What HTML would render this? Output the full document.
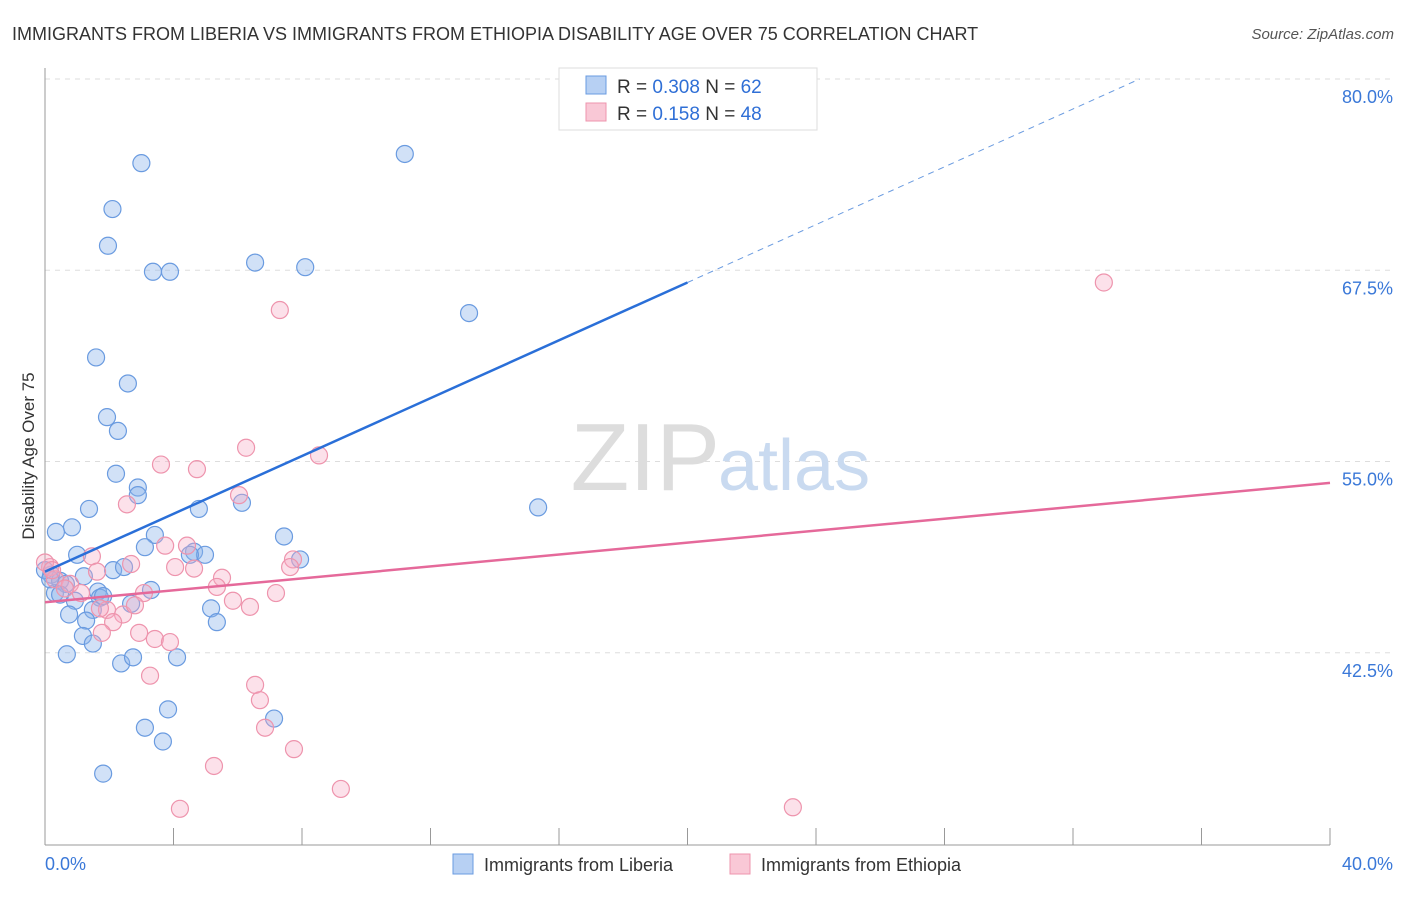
<!DOCTYPE html>
<html><head><meta charset="utf-8"><style>
body{margin:0;background:#fff;font-family:"Liberation Sans",sans-serif;}
svg text{font-family:"Liberation Sans",sans-serif;}
</style></head><body>
<svg id="chart" width="1406" height="892">
<text x="12" y="40" font-size="18" fill="#333">IMMIGRANTS FROM LIBERIA VS IMMIGRANTS FROM ETHIOPIA DISABILITY AGE OVER 75 CORRELATION CHART</text>
<text x="1394" y="39" font-size="15" fill="#555" text-anchor="end" font-style="italic">Source: ZipAtlas.com</text>
<g id="grid"></g>
<text x="720" y="490" font-size="96" fill="#ddd" text-anchor="end" font-family="Liberation Serif">ZIP</text>
<text x="718" y="490" font-size="72" fill="#c9daf0">atlas</text>
<line x1="45" y1="68" x2="45" y2="845" stroke="#999"/>
<line x1="45" y1="845" x2="1330" y2="845" stroke="#999"/>
<text transform="translate(34,456) rotate(-90)" font-size="17" fill="#333" text-anchor="middle">Disability Age Over 75</text>
<g id="pts"></g>
<g id="lines"></g>
<g>
<rect x="559" y="68" width="258" height="62" fill="#fff" stroke="#ddd"/>
<rect x="586" y="76" width="20" height="18" fill="#b7d0f3" stroke="#6a9be0"/>
<rect x="586" y="103" width="20" height="18" fill="#f9c8d6" stroke="#ee94ad"/>
<text x="617" y="93" font-size="19" fill="#333">R = <tspan fill="#2f6fd6">0.308</tspan>   N = <tspan fill="#2f6fd6">62</tspan></text>
<text x="617" y="120" font-size="19" fill="#333">R =  <tspan fill="#2f6fd6">0.158</tspan>   N = <tspan fill="#2f6fd6">48</tspan></text>
</g>
<g>
<rect x="453" y="854" width="20" height="20" fill="#b7d0f3" stroke="#6a9be0"/>
<text x="484" y="871" font-size="18" fill="#333">Immigrants from Liberia</text>
<rect x="730" y="854" width="20" height="20" fill="#f9c8d6" stroke="#ee94ad"/>
<text x="761" y="871" font-size="18" fill="#333">Immigrants from Ethiopia</text>
</g>
</svg>
<script>
const yTicks=[80,67.5,55,42.5];
const xTickLabels=["0.0%","40.0%"];
const liberiaX=[3.0,11.2,2.1,1.96,3.36,3.89,6.54,8.1,13.2,1.59,2.58,1.93,2.27,2.21,2.89,2.89,1.37,0.84,0.34,4.79,6.13,15.35,3.42,7.44,1.0,3.11,4.64,4.98,7.94,2.12,2.46,1.21,0.19,0.47,0.65,0.31,0.47,3.3,1.65,1.71,2.68,0.93,1.49,0.75,1.28,5.17,5.35,1.18,1.49,0.68,2.37,2.74,4.11,3.83,3.11,3.67,7.13,1.81,0.0,0.16,1.81,4.51];
const liberiaY=[74.5,75.1,71.5,69.1,67.4,67.4,68.0,67.7,64.7,61.8,60.1,57.9,57.0,54.2,53.3,52.8,51.9,50.7,50.4,51.9,52.3,52.0,50.2,50.1,48.9,49.4,49.1,48.9,48.6,47.9,48.1,47.5,47.6,47.2,47.0,46.4,46.3,46.6,46.5,46.1,45.7,45.9,45.3,45.0,44.6,45.4,44.5,43.6,43.1,42.4,41.8,42.2,42.2,38.8,37.6,36.7,38.2,34.6,47.9,47.3,46.2,48.9];
const ethiopiaX=[7.31,32.96,6.26,8.53,3.61,4.73,6.04,2.55,3.74,4.42,1.46,2.68,4.05,4.64,7.72,7.63,5.51,5.35,0.16,0.31,0.78,1.62,3.08,1.12,5.85,6.38,7.19,1.93,2.43,2.12,1.77,2.93,3.42,3.89,3.27,6.54,6.69,6.85,7.75,5.26,4.2,9.21,23.28,0.0,0.62,2.8,1.71,0.22];
const ethiopiaY=[64.9,66.7,55.9,55.4,54.8,54.5,52.8,52.2,49.5,49.5,48.8,48.3,48.1,48.0,48.6,48.1,47.4,46.8,48.1,47.3,47.0,47.8,46.4,46.4,45.9,45.5,46.4,45.3,45.0,44.5,43.8,43.8,43.4,43.2,41.0,40.4,39.4,37.6,36.2,35.1,32.3,33.6,32.4,48.4,46.7,45.6,45.4,47.9];
const liberiaFit=[47.8,66.7];   // at x=0 and x=20
const ethiopiaFit=[45.8,53.6];  // at x=0 and x=40
const xs=v=>45+v/40*1285, ys=v=>79+(80-v)*15.3;
const NS="http://www.w3.org/2000/svg";
function mk(t,a,p){const e=document.createElementNS(NS,t);for(const k in a)e.setAttribute(k,a[k]);p.appendChild(e);return e;}
const grid=document.getElementById('grid');
yTicks.forEach(v=>{
 const l=mk('line',{x1:45,x2:1395,y1:ys(v),y2:ys(v),stroke:'#ddd','stroke-dasharray':'5,5'},grid);
 
 
 const t=mk('text',{x:1393,y:ys(v)+24,'font-size':18,fill:'#3a78d8','text-anchor':'end'},grid);
 t.textContent=v.toFixed(1)+'%';
 
 
});
for(let i=1;i<=10;i++){const x=45+i*128.5;const l=mk('line',{x1:x,x2:x,y1:828,y2:845,stroke:'#999'},grid);
 
 }
[[45,'start'],[1393,'end']].forEach((p,i)=>{const t=mk('text',{x:p[0],y:870,'font-size':18,fill:'#3a78d8','text-anchor':p[1]},grid);t.textContent=xTickLabels[i];
 
 });
const pts=document.getElementById('pts');
liberiaX.forEach((x,i)=>{const c=mk('circle',{cx:xs(x),cy:ys(liberiaY[i]),r:8.5,fill:'rgba(140,180,235,0.4)',stroke:'#6a9be0','stroke-width':1.2},pts);
 
 });
ethiopiaX.forEach((x,i)=>{const c=mk('circle',{cx:xs(x),cy:ys(ethiopiaY[i]),r:8.5,fill:'rgba(245,170,195,0.35)',stroke:'#ee94ad','stroke-width':1.2},pts);
 
 });
const lines=document.getElementById('lines');
const slope=(liberiaFit[1]-liberiaFit[0])/20;
const l1=mk('line',{x1:xs(0),y1:ys(liberiaFit[0]),x2:xs(20),y2:ys(liberiaFit[1]),stroke:'#2a6fd8','stroke-width':2.5},lines);


const xe=(80-liberiaFit[0])/slope;
const l2=mk('line',{x1:xs(20),y1:ys(liberiaFit[1]),x2:xs(xe),y2:ys(80),stroke:'#6a9be0','stroke-width':1,'stroke-dasharray':'6,5'},lines);


const l3=mk('line',{x1:xs(0),y1:ys(ethiopiaFit[0]),x2:xs(40),y2:ys(ethiopiaFit[1]),stroke:'#e5699a','stroke-width':2.5},lines);


</script>
</body></html>
